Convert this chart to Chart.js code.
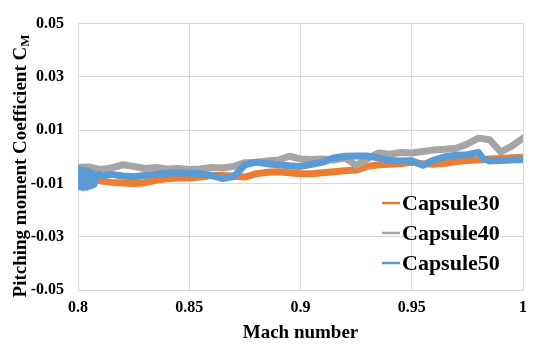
<!DOCTYPE html>
<html><head><meta charset="utf-8">
<script src="https://cdn.jsdelivr.net/npm/chart.js@4.4.0/dist/chart.umd.min.js"></script>
<style>html,body{margin:0;padding:0;background:#fff}</style>
</head><body>
<canvas id="c" width="535" height="347"></canvas>
<script>
const xTicks = [0.8, 0.85, 0.9, 0.95, 1];
const xTickLabels = ['0.8', '0.85', '0.9', '0.95', '1'];
const yTicks = [-0.05, -0.03, -0.01, 0.01, 0.03, 0.05];
const yTickLabels = ['-0.05', '-0.03', '-0.01', '0.01', '0.03', '0.05'];
const seriesNames = ['Capsule30', 'Capsule40', 'Capsule50'];
const xTitle = 'Mach number';
const yTitleMain = 'Pitching moment Coefficient C';
const yTitleSub = 'M';

const mach30 = [0.805,0.81,0.815,0.82,0.825,0.83,0.835,0.84,0.845,0.85,0.855,0.86,0.865,0.87,0.875,0.88,0.885,0.89,0.895,0.9,0.905,0.91,0.915,0.92,0.925,0.93,0.935,0.94,0.945,0.95,0.955,0.96,0.965,0.97,0.975,0.98,0.985,0.99,0.995,1.0];
const cm30 = [-0.0072,-0.0090,-0.0096,-0.0098,-0.0100,-0.0097,-0.0088,-0.0082,-0.0080,-0.0080,-0.0076,-0.0070,-0.0070,-0.0073,-0.0076,-0.0064,-0.0058,-0.0056,-0.0060,-0.0064,-0.0064,-0.0060,-0.0056,-0.0052,-0.0050,-0.0036,-0.0030,-0.0028,-0.0026,-0.0021,-0.0026,-0.0028,-0.0024,-0.0018,-0.0014,-0.0012,-0.0008,-0.0006,-0.0004,-0.0002];

const mach40 = [0.8,0.805,0.81,0.815,0.82,0.825,0.83,0.835,0.84,0.845,0.85,0.855,0.86,0.865,0.87,0.875,0.88,0.885,0.89,0.895,0.9,0.905,0.91,0.915,0.92,0.925,0.93,0.935,0.94,0.945,0.95,0.955,0.96,0.965,0.97,0.975,0.98,0.985,0.99,0.995,1.0];
const cm40 = [-0.0040,-0.0038,-0.0048,-0.0042,-0.0030,-0.0036,-0.0044,-0.0040,-0.0046,-0.0044,-0.0048,-0.0046,-0.0040,-0.0042,-0.0036,-0.0022,-0.0020,-0.0016,-0.0012,0.0002,-0.0008,-0.0010,-0.0008,-0.0012,-0.0004,-0.0032,-0.0008,0.0014,0.0010,0.0016,0.0014,0.0020,0.0026,0.0028,0.0032,0.0048,0.0070,0.0064,0.0018,0.0040,0.0070];

const mach50 = [0.8,0.8008,0.8016,0.8024,0.8032,0.804,0.8048,0.8056,0.8064,0.8072,0.808,0.8095,0.81,0.815,0.82,0.825,0.83,0.835,0.84,0.845,0.85,0.855,0.86,0.865,0.87,0.875,0.88,0.885,0.89,0.895,0.9,0.905,0.91,0.915,0.92,0.925,0.93,0.935,0.94,0.945,0.95,0.955,0.96,0.965,0.97,0.975,0.98,0.982,0.985,0.99,0.995,1.0];
const cm50 = [-0.0048,-0.0112,-0.0050,-0.0115,-0.0052,-0.0114,-0.0056,-0.0110,-0.0062,-0.0104,-0.0072,-0.0066,-0.0072,-0.0066,-0.0072,-0.0075,-0.0070,-0.0066,-0.0062,-0.0060,-0.0062,-0.0064,-0.0070,-0.0082,-0.0074,-0.0030,-0.0020,-0.0026,-0.0030,-0.0034,-0.0036,-0.0028,-0.0020,-0.0004,0.0002,0.0003,0.0003,-0.0004,-0.0014,-0.0016,-0.0015,-0.0032,-0.0012,0.0000,0.0006,0.0008,0.0016,-0.0006,-0.0016,-0.0014,-0.0012,-0.0010];

const colors = ['#ED7D31', '#A5A5A5', '#5B9BD5'];
const FONT = '"Liberation Serif", "Times New Roman", serif';

function pts(xs, ys) { return xs.map((m, i) => ({x: m, y: ys[i]})); }

const overlay = {
  id: 'overlay',
  afterDraw(chart) {
    const ctx = chart.ctx;
    ctx.save();
    ctx.fillStyle = '#000';
    ctx.textBaseline = 'middle';
    ctx.textAlign = 'left';
    const mainFont = 'bold 19px ' + FONT;
    const subFont = 'bold 13px ' + FONT;
    ctx.font = mainFont;
    const w1 = ctx.measureText(yTitleMain).width;
    ctx.font = subFont;
    const w2 = ctx.measureText(yTitleSub).width;
    ctx.translate(21, 166);
    ctx.rotate(-Math.PI / 2);
    const start = -(w1 + w2) / 2;
    ctx.font = mainFont;
    ctx.fillText(yTitleMain, start, 0);
    ctx.font = subFont;
    ctx.fillText(yTitleSub, start + w1, 5);
    ctx.restore();
    ctx.save();
    ctx.textBaseline = 'middle';
    ctx.textAlign = 'left';
    ctx.font = 'bold 22px ' + FONT;
    seriesNames.forEach((name, i) => {
      const y = 203 + i * 30;
      ctx.strokeStyle = colors[i];
      ctx.lineWidth = 2.5;
      ctx.beginPath();
      ctx.moveTo(382, y);
      ctx.lineTo(400, y);
      ctx.stroke();
      ctx.fillStyle = '#000';
      ctx.fillText(name, 402, y + 1);
    });
    ctx.restore();
  }
};

const common = {borderWidth: 7, pointRadius: 0, tension: 0, borderJoinStyle: 'round', borderCapStyle: 'round'};

new Chart(document.getElementById('c'), {
  type: 'line',
  data: {
    datasets: [
      Object.assign({label: seriesNames[0], data: pts(mach30, cm30), borderColor: colors[0], backgroundColor: colors[0], order: 2}, common),
      Object.assign({label: seriesNames[1], data: pts(mach40, cm40), borderColor: colors[1], backgroundColor: colors[1], order: 1}, common),
      Object.assign({label: seriesNames[2], data: pts(mach50, cm50), borderColor: colors[2], backgroundColor: colors[2], order: 0}, common)
    ]
  },
  options: {
    responsive: false,
    animation: false,
    layout: {padding: {top: 15, right: 6, left: 0, bottom: 0}},
    plugins: {legend: {display: false}, tooltip: {enabled: false}},
    scales: {
      x: {
        type: 'linear', min: 0.8, max: 1.0,
        afterBuildTicks: s => { s.ticks = xTicks.map(v => ({value: v})); },
        afterFit: s => { s.height = 57; },
        ticks: {autoSkip: false, maxRotation: 0, padding: 8, color: '#000',
          font: {family: FONT, size: 16, weight: 'bold'},
          callback: (v, i) => xTickLabels[i]},
        grid: {color: '#d9d9d9', drawTicks: false},
        border: {color: '#d9d9d9'},
        title: {display: true, text: xTitle, color: '#000',
          font: {family: FONT, size: 19, weight: 'bold'}, padding: {top: 0, bottom: 3}}
      },
      y: {
        type: 'linear', min: -0.05, max: 0.05,
        afterBuildTicks: s => { s.ticks = yTicks.map(v => ({value: v})); },
        afterFit: s => { s.width = 78; },
        ticks: {autoSkip: false, padding: 14, color: '#000',
          font: {family: FONT, size: 16, weight: 'bold'},
          callback: (v, i) => yTickLabels[i]},
        grid: {color: '#d9d9d9', drawTicks: false},
        border: {color: '#d9d9d9'}
      }
    }
  },
  plugins: [overlay]
});
</script>
</body></html>
